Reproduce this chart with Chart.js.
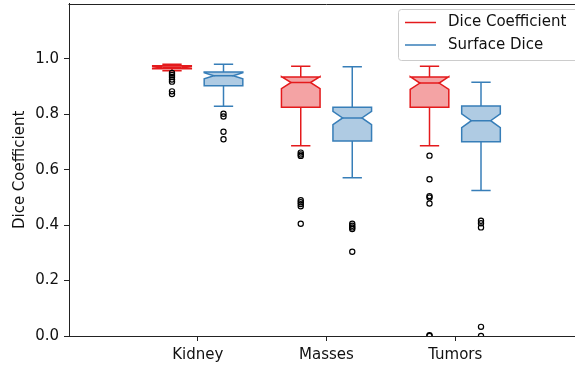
<!DOCTYPE html>
<html>
<head>
<meta charset="utf-8">
<script src="https://cdn.jsdelivr.net/npm/chart.js@4/dist/chart.umd.min.js"></script>
<style>
  html, body { margin: 0; padding: 0; background: #ffffff; overflow: hidden; width: 575px; height: 368px; }
  #wrap { position: absolute; left: 0; top: 0; width: 575px; height: 368px; overflow: hidden; }
  canvas { display: block; }
</style>
</head>
<body>
<div id="wrap"><canvas id="c" width="592" height="368" style="width:592px;height:368px"></canvas></div>
<script>
// ---------- data ----------
const categories = ['Kidney', 'Masses', 'Tumors'];
const seriesNames = ['Dice Coefficient', 'Surface Dice'];
const yTickValues = [0.0, 0.2, 0.4, 0.6, 0.8, 1.0];

// Dice Coefficient box statistics per category
const diceWhiskerLow  = [0.957, 0.687, 0.687];
const diceQ1          = [0.965, 0.826, 0.826];
const diceMedian      = [0.970, 0.915, 0.913];
const diceQ3          = [0.975, 0.935, 0.935];
const diceWhiskerHigh = [0.981, 0.974, 0.974];
const diceNotchLow    = [0.967, 0.893, 0.890];
const diceNotchHigh   = [0.973, 0.936, 0.936];
const diceOutliers = [
  [0.949, 0.942, 0.935, 0.926, 0.918, 0.883, 0.873],
  [0.662, 0.655, 0.650, 0.490, 0.483, 0.476, 0.468, 0.405],
  [0.651, 0.566, 0.505, 0.500, 0.478, 0.003, 0.000]
];

// Surface Dice box statistics per category
const surfWhiskerLow  = [0.829, 0.571, 0.525];
const surfQ1          = [0.903, 0.704, 0.701];
const surfMedian      = [0.939, 0.787, 0.777];
const surfQ3          = [0.953, 0.826, 0.830];
const surfWhiskerHigh = [0.981, 0.972, 0.916];
const surfNotchLow    = [0.928, 0.763, 0.752];
const surfNotchHigh   = [0.950, 0.811, 0.802];
const surfOutliers = [
  [0.802, 0.792, 0.737, 0.710],
  [0.405, 0.398, 0.392, 0.386, 0.304],
  [0.416, 0.407, 0.392, 0.033, 0.000]
];

// ---------- styling ----------
const RED = '#e41a1c', RED_FILL = 'rgba(228,26,28,0.4)';
const BLUE = '#377eb8', BLUE_FILL = 'rgba(55,126,184,0.4)';
const FONT = "'DejaVu Sans', 'Liberation Sans', sans-serif";
const OFFSET = 0.2, BOX_W = 0.3;

const series = [
  { name: seriesNames[0], color: RED, fill: RED_FILL, off: -OFFSET,
    lw: diceWhiskerLow, q1: diceQ1, med: diceMedian, q3: diceQ3, uw: diceWhiskerHigh,
    nlo: diceNotchLow, nhi: diceNotchHigh, out: diceOutliers },
  { name: seriesNames[1], color: BLUE, fill: BLUE_FILL, off: OFFSET,
    lw: surfWhiskerLow, q1: surfQ1, med: surfMedian, q3: surfQ3, uw: surfWhiskerHigh,
    nlo: surfNotchLow, nhi: surfNotchHigh, out: surfOutliers }
];

// outlier points as a scatter dataset (positions via the library's scales)
const outlierPoints = [];
series.forEach(s => {
  categories.forEach((c, i) => {
    s.out[i].forEach(v => outlierPoints.push({ x: i + 1 + s.off, y: v }));
  });
});

const boxPlugin = {
  id: 'boxes',
  beforeDatasetsDraw(chart) {
    const ctx = chart.ctx, xs = chart.scales.x, ys = chart.scales.y, a = chart.chartArea;
    ctx.save();
    ctx.beginPath();
    ctx.rect(a.left, a.top, a.right - a.left, a.bottom - a.top);
    ctx.clip();
    ctx.lineWidth = 1.5;
    ctx.lineJoin = 'miter';
    series.forEach(s => {
      categories.forEach((c, i) => {
        const p = i + 1 + s.off;
        const X = v => xs.getPixelForValue(v), Y = v => ys.getPixelForValue(v);
        const xl = X(p - BOX_W / 2), xr = X(p + BOX_W / 2);
        const xcl = X(p - BOX_W / 4), xcr = X(p + BOX_W / 4);
        const xc = X(p);
        ctx.strokeStyle = s.color;
        // whiskers and caps
        ctx.beginPath();
        ctx.moveTo(xc, Y(s.q1[i])); ctx.lineTo(xc, Y(s.lw[i]));
        ctx.moveTo(xc, Y(s.q3[i])); ctx.lineTo(xc, Y(s.uw[i]));
        ctx.moveTo(xcl, Y(s.lw[i])); ctx.lineTo(xcr, Y(s.lw[i]));
        ctx.moveTo(xcl, Y(s.uw[i])); ctx.lineTo(xcr, Y(s.uw[i]));
        ctx.stroke();
        // notched box
        ctx.beginPath();
        ctx.moveTo(xl, Y(s.q1[i]));
        ctx.lineTo(xl, Y(s.nlo[i]));
        ctx.lineTo(xcl, Y(s.med[i]));
        ctx.lineTo(xl, Y(s.nhi[i]));
        ctx.lineTo(xl, Y(s.q3[i]));
        ctx.lineTo(xr, Y(s.q3[i]));
        ctx.lineTo(xr, Y(s.nhi[i]));
        ctx.lineTo(xcr, Y(s.med[i]));
        ctx.lineTo(xr, Y(s.nlo[i]));
        ctx.lineTo(xr, Y(s.q1[i]));
        ctx.closePath();
        ctx.fillStyle = s.fill;
        ctx.fill();
        ctx.stroke();
        // median
        ctx.beginPath();
        ctx.moveTo(xcl, Y(s.med[i])); ctx.lineTo(xcr, Y(s.med[i]));
        ctx.stroke();
      });
    });
    ctx.restore();
  },
  afterDraw(chart) {
    const ctx = chart.ctx, a = chart.chartArea;
    ctx.save();
    // top spine
    ctx.strokeStyle = '#222';
    ctx.lineWidth = 1;
    ctx.beginPath();
    ctx.moveTo(Math.round(a.left) - 0.5, Math.round(a.top) + 0.5);
    ctx.lineTo(Math.round(a.right) + 0.5, Math.round(a.top) + 0.5);
    ctx.stroke();
    // legend (matplotlib style, upper right; its right part runs past the visible edge)
    const lx = 398.5, ly = 9.5, lw = 190, lh = 51;
    const r = 3;
    ctx.beginPath();
    ctx.moveTo(lx + r, ly);
    ctx.lineTo(lx + lw - r, ly); ctx.quadraticCurveTo(lx + lw, ly, lx + lw, ly + r);
    ctx.lineTo(lx + lw, ly + lh - r); ctx.quadraticCurveTo(lx + lw, ly + lh, lx + lw - r, ly + lh);
    ctx.lineTo(lx + r, ly + lh); ctx.quadraticCurveTo(lx, ly + lh, lx, ly + lh - r);
    ctx.lineTo(lx, ly + r); ctx.quadraticCurveTo(lx, ly, lx + r, ly);
    ctx.closePath();
    ctx.fillStyle = 'rgba(255,255,255,0.8)';
    ctx.fill();
    ctx.strokeStyle = '#cccccc';
    ctx.stroke();
    const rows = [22.5, 45];
    series.forEach((s, k) => {
      ctx.strokeStyle = s.color;
      ctx.lineWidth = 1.5;
      ctx.beginPath();
      ctx.moveTo(405, rows[k]); ctx.lineTo(436, rows[k]);
      ctx.stroke();
      ctx.fillStyle = '#111';
      ctx.font = '15px ' + FONT;
      ctx.textBaseline = 'middle';
      ctx.textAlign = 'left';
      ctx.fillText(s.name, 448, rows[k]);
    });
    ctx.restore();
  }
};

new Chart(document.getElementById('c'), {
  type: 'scatter',
  data: {
    datasets: [{
      label: 'outliers',
      data: outlierPoints,
      pointStyle: 'circle',
      pointRadius: 2.6,
      pointBorderWidth: 1.2,
      pointBorderColor: '#000',
      pointBackgroundColor: 'rgba(0,0,0,0)',
      pointHoverRadius: 2.6,
      clip: 0
    }]
  },
  options: {
    responsive: false,
    animation: false,
    events: [],
    layout: { padding: { top: 2, right: 8, left: 0, bottom: 0 } },
    plugins: { legend: { display: false }, tooltip: { enabled: false } },
    scales: {
      x: {
        type: 'linear', min: 0, max: 4,
        afterBuildTicks: sc => { sc.ticks = categories.map((c, i) => ({ value: i + 1 })); },
        afterFit: sc => { sc.height = 32; sc.paddingLeft = 0; sc.paddingRight = 0; },
        ticks: {
          callback: v => categories[v - 1],
          font: { family: FONT, size: 15 }, color: '#111', padding: 5, maxRotation: 0
        },
        grid: { display: true, drawOnChartArea: false, drawTicks: true, tickLength: 5, tickColor: '#222', tickWidth: 1 },
        border: { display: true, color: '#222', width: 1 }
      },
      y: {
        type: 'linear', min: 0, max: 1.199,
        afterBuildTicks: sc => { sc.ticks = yTickValues.map(v => ({ value: v })); },
        afterFit: sc => { sc.width = 69; sc.paddingTop = 0; sc.paddingBottom = 0; },
        ticks: {
          callback: v => Number(v).toFixed(1),
          font: { family: FONT, size: 15 }, color: '#111', padding: 5
        },
        title: { display: true, text: 'Dice Coefficient', font: { family: FONT, size: 15 }, color: '#111', padding: { top: 11, bottom: 0 } },
        grid: { display: true, drawOnChartArea: false, drawTicks: true, tickLength: 5, tickColor: '#222', tickWidth: 1 },
        border: { display: true, color: '#222', width: 1 }
      }
    }
  },
  plugins: [boxPlugin]
});
</script>
</body>
</html>
